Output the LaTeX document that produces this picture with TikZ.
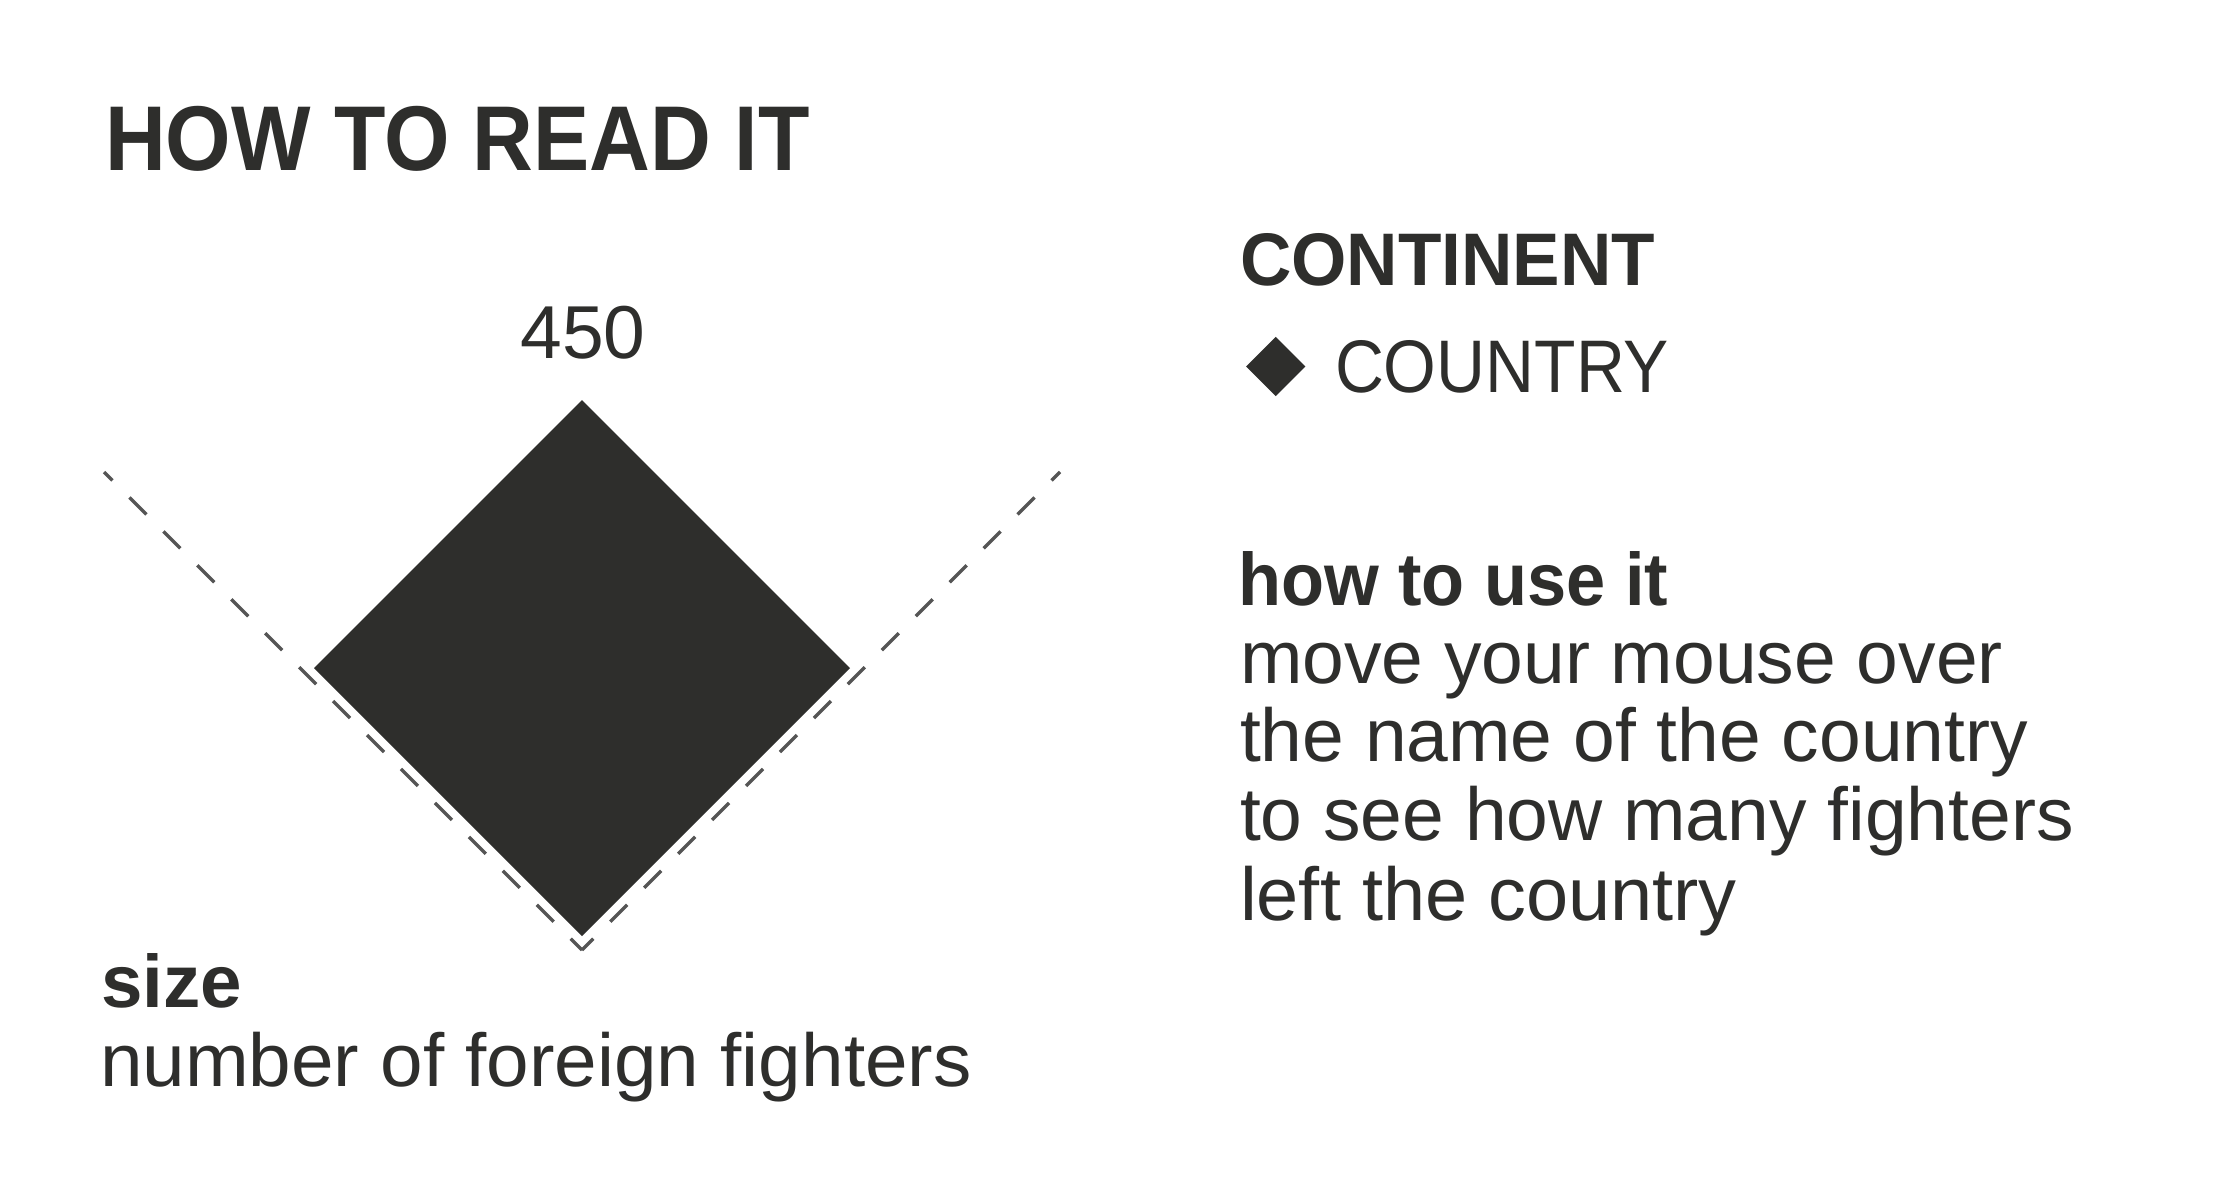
\documentclass[tikz,border=0pt]{standalone}
\usepackage{fontspec}
\setmainfont{Liberation Sans}
\usepackage{graphicx}
\usetikzlibrary{shapes.geometric}
\definecolor{ink}{HTML}{2E2E2C}
\definecolor{guidegray}{HTML}{555555}
\tikzset{
  txt/.style={anchor=base west, inner sep=0pt, outer sep=0pt, text=ink},
  titletxt/.style={txt, font=\fontsize{92}{110}\selectfont\bfseries},
  headtxt/.style={txt, font=\fontsize{74.5}{90}\selectfont\bfseries},
  bodytxt/.style={txt, font=\fontsize{75}{90}\selectfont},
  guide/.style={draw=guidegray, line width=3.3pt, dash pattern=on 24pt off 24pt, dash phase=12pt},
  bigdiamond/.style={diamond, aspect=1, fill=ink, inner sep=0pt, outer sep=0pt, minimum width=536pt, minimum height=536pt},
  smalldiamond/.style={diamond, aspect=1, fill=ink, inner sep=0pt, outer sep=0pt, minimum width=59.4pt, minimum height=59.4pt},
}
\begin{document}
\begin{tikzpicture}[x=1pt,y=-1pt]
\fill[white] (0,0) rectangle (2226,1184);
\useasboundingbox (0,0) rectangle (2226,1184);

% title
\node[titletxt] (title) at (105,170) {\scalebox{0.915}[1]{HOW TO READ IT}};

% guide lines
\coordinate (vl) at (104,472);
\coordinate (vt) at (582,950);
\coordinate (vr) at (1060,472);
\draw[guide] (vl) -- (vt);
\draw[guide] (vr) -- (vt);

% big diamond
\node[bigdiamond] (big) at (582,668) {};
\node[bodytxt, anchor=base] (num) at (583,358) {450};

% size legend
\node[headtxt] (size) at (101,1007) {size};
\node[bodytxt] (sizedesc) at (100,1086) {\scalebox{1.02}[1]{number of foreign fighters}};

% right column
\node[headtxt] (cont) at (1240,285) {\scalebox{0.955}[1]{CONTINENT}};
\node[smalldiamond] (ld) at (1275.7,366.5) {};
\node[bodytxt, font=\fontsize{74.5}{90}\selectfont] (country) at (1335,392.7) {\scalebox{0.91}[1]{COUNTRY}};

\node[headtxt] (use) at (1238,605) {\scalebox{0.945}[1]{how to use it}};
\node[bodytxt] (l1) at (1240,683.3) {move your mouse over};
\node[bodytxt] (l2) at (1240,761.7) {the name of the country};
\node[bodytxt] (l3) at (1240,840) {to see how many fighters};
\node[bodytxt] (l4) at (1240,920) {\scalebox{1.01}[1]{left the country}};
\end{tikzpicture}
\end{document}
